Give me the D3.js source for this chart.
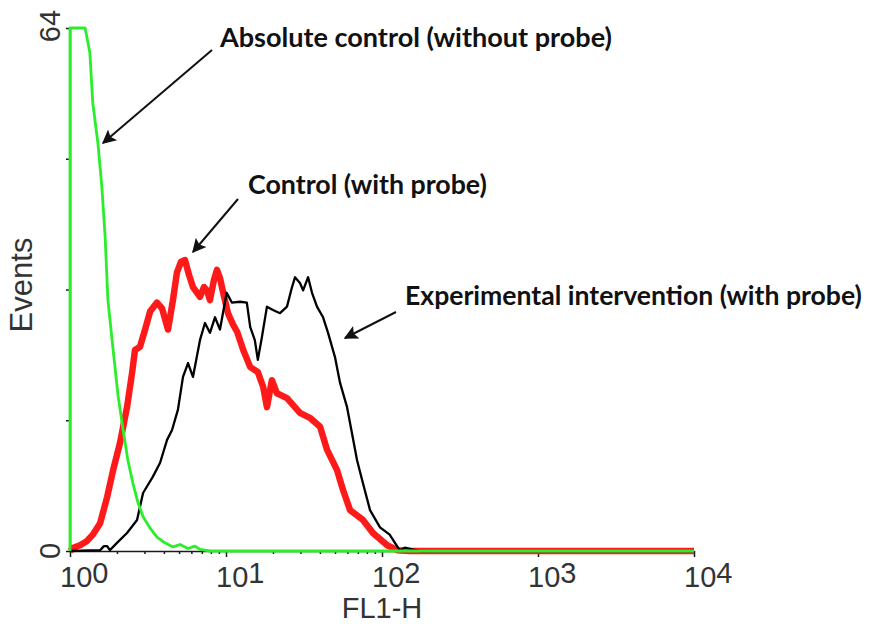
<!DOCTYPE html>
<html><head><meta charset="utf-8">
<script src="https://cdn.jsdelivr.net/npm/d3@7/dist/d3.min.js"></script>
<style>
html,body{margin:0;padding:0;background:#fff;}
svg{display:block;}
</style></head>
<body>
<svg id="chart" width="876" height="624"></svg>
<script>
// ---------------- DATA ----------------
// FL1-H fluorescence values (log scale) and event counts
const greenFL1 = [1.00, 1.00, 1.25, 1.34, 1.40, 1.51, 1.60, 1.68, 1.75, 1.89, 2.03, 2.19, 2.35, 2.53, 2.73, 2.94, 3.26, 3.61, 4.06, 4.57, 5.07, 5.71, 6.33, 6.81, 7.89, 10000];
const greenCount = [0, 64, 64, 61.0, 54.8, 49.9, 44.6, 38.4, 30.7, 24.6, 19.1, 14.8, 11.1, 8.3, 5.9, 4.2, 2.8, 1.7, 1.0, 0.5, 0.8, 0.3, 0.6, 0.2, 0, 0];

const redFL1 = [1.00, 1.05, 1.16, 1.28, 1.40, 1.56, 1.73, 1.89, 2.09, 2.32, 2.50, 2.61, 2.81, 3.03, 3.26, 3.61, 3.89, 4.25, 4.57, 4.85, 5.15, 5.46, 5.79, 6.14, 6.81, 7.23, 7.55, 7.89, 8.38, 8.75, 9.15, 9.57, 10.3, 11.1, 11.8, 12.9, 14.3, 16.0, 17.3, 18.3, 19.7, 21.2, 24.6, 29.8, 34.5, 40.1, 44.4, 51.5, 56.2, 62.4, 75.5, 87.5, 108, 125, 151, 10000];
const redCount = [0, 0.4, 0.7, 1.2, 2.0, 3.4, 6.6, 9.9, 13.2, 17.6, 21.8, 24.6, 25.0, 27.1, 29.3, 30.4, 29.7, 27.1, 30.7, 34.1, 35.4, 35.6, 33.8, 32.3, 31.1, 32.3, 31.9, 30.7, 33.2, 34.4, 33.4, 31.7, 29.1, 27.7, 26.8, 24.6, 22.5, 21.9, 20.1, 17.6, 20.9, 19.3, 18.7, 16.9, 16.3, 15.2, 12.4, 9.9, 7.5, 5.0, 3.8, 2.2, 0.7, 0.1, 0, 0];

const blackFL1 = [1.00, 1.56, 1.65, 1.73, 1.80, 2.00, 2.32, 2.69, 2.94, 3.40, 3.78, 4.19, 4.51, 4.92, 5.30, 5.71, 6.14, 6.81, 7.33, 7.89, 8.50, 9.15, 10.1, 10.9, 12.3, 13.6, 14.3, 15.3, 16.0, 17.0, 18.3, 20.0, 22.2, 24.6, 26.5, 27.7, 29.8, 31.2, 33.6, 35.6, 38.3, 41.9, 45.1, 50.0, 53.8, 59.7, 64.2, 69.2, 75.5, 83.8, 97.1, 112, 121, 130, 140, 156, 175, 10000];
const blackCount = [0, 0.1, 0.6, 0.6, 0.1, 1.0, 2.2, 3.8, 7.1, 9.1, 10.8, 13.6, 14.8, 17.3, 21.3, 23.0, 21.3, 25.8, 27.9, 26.7, 28.6, 27.1, 31.6, 30.4, 30.5, 30.4, 27.4, 25.8, 23.4, 26.2, 29.9, 29.5, 29.1, 29.9, 32.3, 33.5, 32.8, 31.9, 33.5, 31.6, 29.9, 28.6, 26.7, 23.7, 20.6, 17.6, 14.4, 11.1, 8.3, 5.0, 2.9, 2.0, 1.0, 0.1, 0.4, 0.2, 0, 0];

const xTickExponents = [0, 1, 2, 3, 4];
const yTickValues = [0, 16, 32, 48, 64];
const yTickLabels = ["0", "", "", "", "64"];
const xTitle = "FL1-H";
const yTitle = "Events";
const annotations = [
  "Absolute control (without probe)",
  "Control (with probe)",
  "Experimental intervention (with probe)"
];

// ---------------- LAYOUT ----------------
const svg = d3.select("#chart");
const x = d3.scaleLog().domain([1, 10000]).range([70, 694]);
const y = d3.scaleLinear().domain([0, 64]).range([551, 28]);
const axisColor = "#1a1a1a";
const textColor = "#333";

// minor ticks on x
const minorVals = [];
for (let e = 0; e < 4; e++) for (let m = 2; m <= 9; m++) minorVals.push(m * Math.pow(10, e));

const gx = svg.append("g").attr("transform", `translate(0,${y(0)})`);
gx.call(d3.axisBottom(x).tickValues(minorVals).tickSize(3).tickFormat(""));
gx.call(g => g.select(".domain").remove());
const gx2 = svg.append("g").attr("transform", `translate(0,${y(0)})`);
gx2.call(d3.axisBottom(x).tickValues(xTickExponents.map(e => Math.pow(10, e))).tickSize(6).tickSizeOuter(0).tickFormat(""));
svg.selectAll("g .tick line, g .domain").attr("stroke", axisColor).attr("stroke-width", 1.5);

const gy = svg.append("g").attr("transform", `translate(${x(1)},0)`);
gy.call(d3.axisLeft(y).tickValues(yTickValues).tickSize(4).tickSizeOuter(0).tickFormat(""));
gy.selectAll(".tick line, .domain").attr("stroke", axisColor).attr("stroke-width", 1.5);

// x tick labels 10^n
xTickExponents.forEach(e => {
  const t = svg.append("text")
    .attr("x", x(Math.pow(10, e)) - 10)
    .attr("y", 587)
    .attr("font-family", "Liberation Sans, Arial, sans-serif")
    .attr("font-size", 29)
    .attr("fill", textColor);
  t.append("tspan").text("10");
  t.append("tspan").attr("dy", -4).text(String(e));
});

// y tick labels rotated
yTickValues.forEach((v, i) => {
  if (!yTickLabels[i]) return;
  const ty = v === 64 ? y(v) - 2 : y(v);
  svg.append("text")
    .attr("transform", `translate(60,${ty}) rotate(-90)`)
    .attr("text-anchor", "middle")
    .attr("font-family", "Liberation Sans, Arial, sans-serif")
    .attr("font-size", 29)
    .attr("fill", textColor)
    .text(yTickLabels[i]);
});

// axis titles
svg.append("text")
  .attr("x", 382).attr("y", 618)
  .attr("text-anchor", "middle")
  .attr("font-family", "Liberation Sans, Arial, sans-serif")
  .attr("font-size", 29).attr("fill", textColor)
  .text(xTitle);
svg.append("text")
  .attr("transform", "translate(32,285) rotate(-90)")
  .attr("text-anchor", "middle")
  .attr("font-family", "Liberation Sans, Arial, sans-serif")
  .attr("font-size", 31).attr("fill", textColor)
  .text(yTitle);

// curves
const line = d3.line().x(d => x(d[0])).y(d => y(d[1]));
function series(xs, ys) { return xs.map((v, i) => [v, ys[i]]); }

svg.append("path").datum(series(redFL1, redCount))
  .attr("d", line).attr("fill", "none").attr("stroke", "#ff1a1a")
  .attr("stroke-width", 6.5).attr("stroke-linejoin", "round");
svg.append("path").datum(series(blackFL1, blackCount))
  .attr("d", line).attr("fill", "none").attr("stroke", "#000")
  .attr("stroke-width", 2.3).attr("stroke-linejoin", "round");
svg.append("path").datum(series(greenFL1, greenCount))
  .attr("d", line).attr("fill", "none").attr("stroke", "#2aee2a")
  .attr("stroke-width", 2.8).attr("stroke-linejoin", "round");

// annotations
svg.append("defs").append("marker")
  .attr("id", "arr").attr("viewBox", "0 0 10 10").attr("refX", 9).attr("refY", 5)
  .attr("markerWidth", 8).attr("markerHeight", 7).attr("orient", "auto")
  .attr("markerUnits", "strokeWidth")
  .append("path").attr("d", "M0,0 L10,5 L0,10 L2,5 Z").attr("fill", "#111");

const annoPos = [
  {tx: 220, ty: 47, w: 392, from: [212, 50], to: [103, 143]},
  {tx: 248, ty: 194, w: 239, from: [238, 199], to: [193, 252]},
  {tx: 405, ty: 305, w: 457, from: [396, 312], to: [345, 338]}
];
annotations.forEach((txt, i) => {
  const p = annoPos[i];
  const t = svg.append("text")
    .attr("x", p.tx).attr("y", p.ty)
    .attr("font-family", "Lato, 'Open Sans', sans-serif")
    .attr("font-weight", 700)
    .attr("font-size", 22).attr("fill", "#111")
    .text(txt);
  const len = t.node().getComputedTextLength();
  t.attr("font-size", 22 * p.w / len);
  svg.append("line")
    .attr("x1", p.from[0]).attr("y1", p.from[1])
    .attr("x2", p.to[0]).attr("y2", p.to[1])
    .attr("stroke", "#111").attr("stroke-width", 2)
    .attr("marker-end", "url(#arr)");
});
</script>
</body></html>
